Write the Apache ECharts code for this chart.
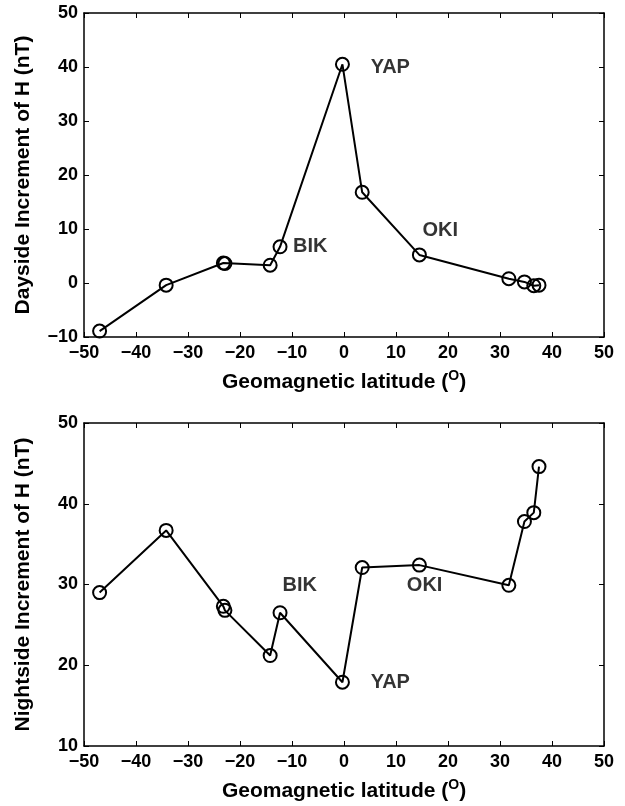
<!DOCTYPE html>
<html>
<head>
<meta charset="utf-8">
<script src="https://cdn.jsdelivr.net/npm/echarts@6/dist/echarts.min.js"></script>
<style>
  html, body { margin: 0; padding: 0; background: #fff; }
  #chart { width: 625px; height: 806px; }
</style>
</head>
<body>
<div id="chart"></div>
<script>
// Geomagnetic latitude of each station (degrees)
const latitude = [-47.0, -34.2, -23.2, -22.9, -14.2, -12.3, -0.3, 3.5, 14.5, 31.7, 34.7, 36.5, 37.5];
// Dayside increment of H (nT)
const daysideH = [-8.9, -0.4, 3.7, 3.6, 3.3, 6.7, 40.5, 16.8, 5.2, 0.8, 0.2, -0.5, -0.4];
// Nightside increment of H (nT)
const nightsideH = [29.0, 36.7, 27.3, 26.8, 21.2, 26.5, 17.9, 32.1, 32.4, 29.9, 37.8, 38.9, 44.6];

// Station name labels: [name, latitude, value]
const dayLabels = [['YAP', 8.9, 39.9], ['BIK', -6.5, 6.7], ['OKI', 18.5, 9.8]];
const nightLabels = [['BIK', -8.5, 29.9], ['OKI', 15.5, 29.9], ['YAP', 8.9, 17.9]];

const xTicks = { min: -50, max: 50, interval: 10 };
const dayTicks = { min: -10, max: 50, interval: 10 };
const nightTicks = { min: 10, max: 50, interval: 10 };

const FONT = '"Liberation Sans", Arial, Helvetica, sans-serif';
const minus = v => String(v).replace('-', '\u2212');

const axisLine = { show: true, onZero: false, lineStyle: { color: '#000', width: 1.5 } };
const tick = { show: true, inside: true, length: 5, lineStyle: { color: '#000', width: 1 } };
const tickLabel = { color: '#000', fontFamily: FONT, fontWeight: 'bold', fontSize: 18, formatter: minus };

function xAxes(gridIndex) {
  return [
    {
      type: 'value', gridIndex, position: 'bottom', ...xTicks,
      axisLine, axisTick: tick, splitLine: { show: false },
      axisLabel: { ...tickLabel, margin: 7 },
      name: 'Geomagnetic latitude ({sup|O})',
      nameLocation: 'middle', nameGap: 32,
      nameTextStyle: {
        color: '#000', fontFamily: FONT, fontWeight: 'bold', fontSize: 21,
        rich: { sup: { fontFamily: FONT, fontWeight: 'bold', fontSize: 14, verticalAlign: 'top', padding: [0, 0, 12, 0], color: '#000' } }
      }
    },
    {
      type: 'value', gridIndex, position: 'top', ...xTicks,
      axisLine, axisTick: tick, splitLine: { show: false }, axisLabel: { show: false }
    }
  ];
}

function yAxes(gridIndex, ticks, title) {
  return [
    {
      type: 'value', gridIndex, position: 'left', ...ticks,
      axisLine, axisTick: tick, splitLine: { show: false },
      axisLabel: { ...tickLabel, margin: 6 },
      name: title, nameLocation: 'middle', nameGap: 50, nameRotate: 90,
      nameTextStyle: { color: '#000', fontFamily: FONT, fontWeight: 'bold', fontSize: 21 }
    },
    {
      type: 'value', gridIndex, position: 'right', ...ticks,
      axisLine, axisTick: tick, splitLine: { show: false }, axisLabel: { show: false }
    }
  ];
}

function lineSeries(xi, yi, values) {
  return {
    type: 'line', xAxisIndex: xi, yAxisIndex: yi,
    data: latitude.map((lat, i) => [lat, values[i]]),
    symbol: 'circle', symbolSize: 13, showAllSymbol: true,
    lineStyle: { color: '#000', width: 2 },
    itemStyle: { color: 'rgba(0,0,0,0)', borderColor: '#000', borderWidth: 2 },
    emphasis: { disabled: true }, animation: false, z: 3
  };
}

function labelSeries(xi, yi, labels) {
  return {
    type: 'scatter', xAxisIndex: xi, yAxisIndex: yi,
    data: labels.map(l => ({ name: l[0], value: [l[1], l[2]] })),
    symbolSize: 0, silent: true, animation: false,
    label: {
      show: true, position: 'inside', formatter: '{b}',
      color: '#000', fontFamily: FONT, fontWeight: 'bold', fontSize: 20
    }
  };
}

const chart = echarts.init(document.getElementById('chart'), null, { renderer: 'canvas' });
chart.setOption({
  backgroundColor: '#fff',
  animation: false,
  grid: [
    { left: 84, top: 13, width: 520, height: 324 },
    { left: 84, top: 423, width: 520, height: 323 }
  ],
  xAxis: [...xAxes(0), ...xAxes(1)],
  yAxis: [
    ...yAxes(0, dayTicks, 'Dayside Increment of H (nT)'),
    ...yAxes(1, nightTicks, 'Nightside Increment of H (nT)')
  ],
  series: [
    lineSeries(0, 0, daysideH),
    labelSeries(0, 0, dayLabels),
    lineSeries(2, 2, nightsideH),
    labelSeries(2, 2, nightLabels)
  ]
});
</script>
</body>
</html>
